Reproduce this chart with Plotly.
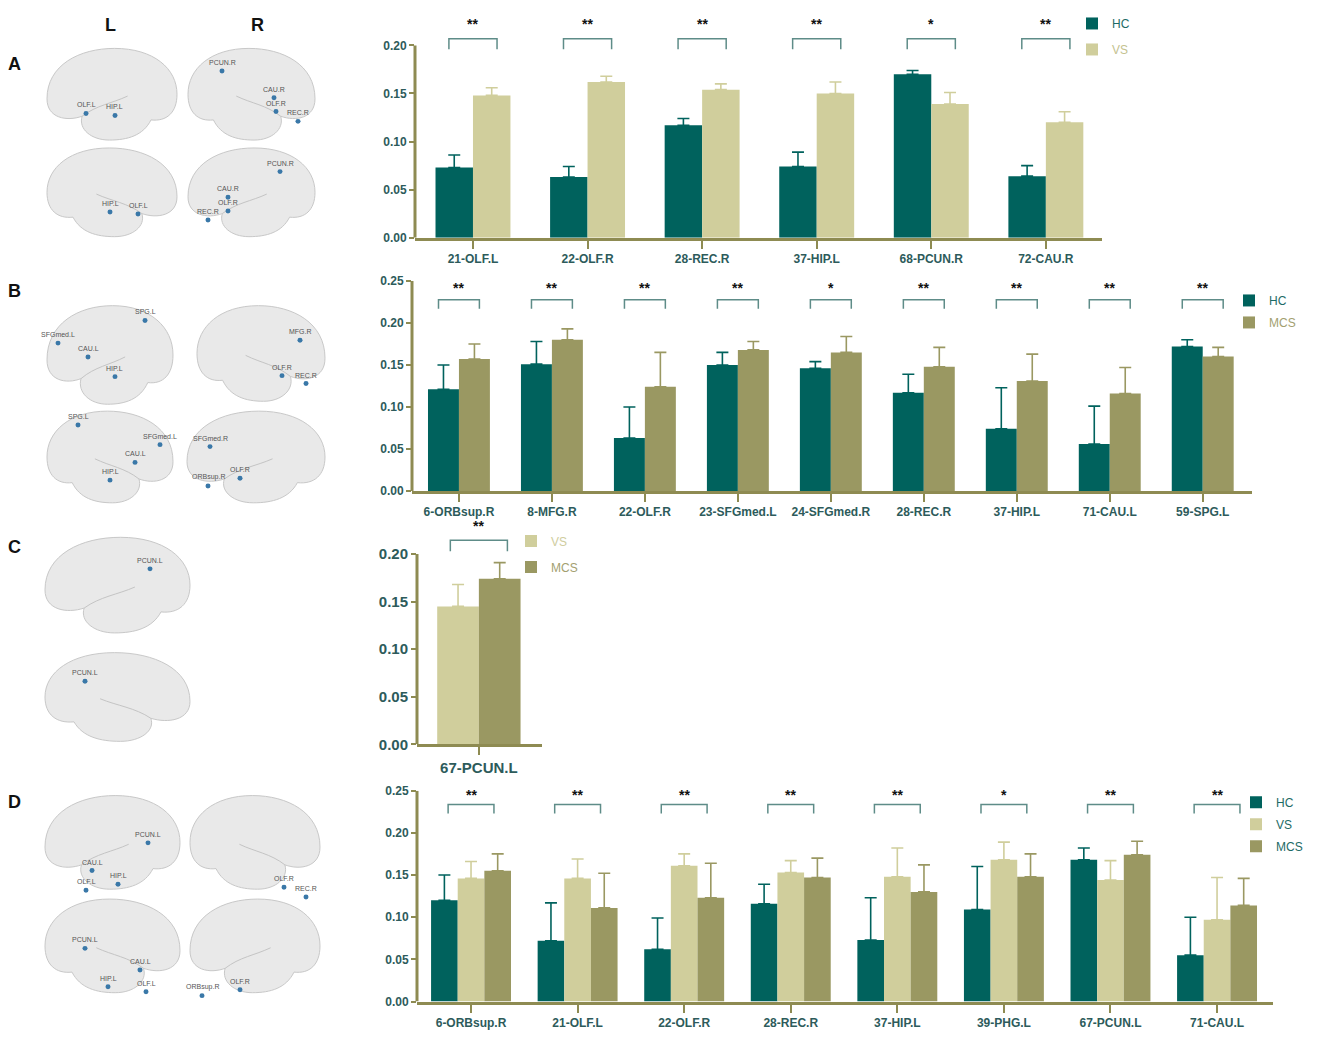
import plotly.graph_objects as go

W, H = 1325, 1049
FONT = "Liberation Sans, Arial, sans-serif"

# ------------------------------------------------------------------ data
catsA = ["21-OLF.L", "22-OLF.R", "28-REC.R", "37-HIP.L", "68-PCUN.R", "72-CAU.R"]
A_HC = [0.073, 0.063, 0.117, 0.074, 0.170, 0.064]
A_HC_sd = [0.013, 0.011, 0.007, 0.015, 0.004, 0.011]
A_VS = [0.148, 0.162, 0.154, 0.150, 0.139, 0.120]
A_VS_sd = [0.008, 0.006, 0.006, 0.012, 0.012, 0.011]
sigA = ["**", "**", "**", "**", "*", "**"]

catsB = ["6-ORBsup.R", "8-MFG.R", "22-OLF.R", "23-SFGmed.L", "24-SFGmed.R",
         "28-REC.R", "37-HIP.L", "71-CAU.L", "59-SPG.L"]
B_HC = [0.121, 0.151, 0.063, 0.150, 0.146, 0.117, 0.074, 0.056, 0.172]
B_HC_sd = [0.029, 0.027, 0.037, 0.015, 0.008, 0.022, 0.049, 0.045, 0.008]
B_MCS = [0.157, 0.180, 0.124, 0.168, 0.165, 0.148, 0.131, 0.116, 0.160]
B_MCS_sd = [0.018, 0.013, 0.041, 0.010, 0.019, 0.023, 0.032, 0.031, 0.011]
sigB = ["**", "**", "**", "**", "*", "**", "**", "**", "**"]

catsC = ["67-PCUN.L"]
C_VS = [0.145]
C_VS_sd = [0.023]
C_MCS = [0.174]
C_MCS_sd = [0.017]
sigC = ["**"]

catsD = ["6-ORBsup.R", "21-OLF.L", "22-OLF.R", "28-REC.R", "37-HIP.L",
         "39-PHG.L", "67-PCUN.L", "71-CAU.L"]
D_HC = [0.120, 0.072, 0.062, 0.116, 0.073, 0.109, 0.168, 0.055]
D_HC_sd = [0.030, 0.045, 0.037, 0.023, 0.050, 0.051, 0.014, 0.045]
D_VS = [0.146, 0.146, 0.161, 0.153, 0.148, 0.168, 0.144, 0.097]
D_VS_sd = [0.020, 0.023, 0.014, 0.014, 0.034, 0.021, 0.023, 0.050]
D_MCS = [0.155, 0.111, 0.123, 0.147, 0.130, 0.148, 0.174, 0.114]
D_MCS_sd = [0.020, 0.041, 0.041, 0.023, 0.032, 0.027, 0.016, 0.032]
sigD = ["**", "**", "**", "**", "**", "*", "**", "**"]

# ------------------------------------------------------------------ styles
BAR = {"HC": "#00625d", "VS": "#d0ce9c", "MCS": "#9a9862"}
AXIS = "#8e8b52"
TICKTXT = "#2d5b5b"
BRACKET = "#5e8c88"

def px_x(px):
    return px / W

def px_y(py):
    return 1 - py / H

panels = [
    dict(cats=catsA, series=[("HC", A_HC, A_HC_sd), ("VS", A_VS, A_VS_sd)], sig=sigA,
         xpx=(415, 1102), y0=234, pxu=975, ytop=0.235, ymaxtick=0.20,
         xr=(-0.506, 5.49), bw=0.327, br=(0.196, 0.207), st=0.2225, half=0.21, fs=12, xfs=12,
         leg=(1072, 2), legcol={"HC": "#1d6b66", "VS": "#c4c28f"}, gap=7),
    dict(cats=catsB, series=[("HC", B_HC, B_HC_sd), ("MCS", B_MCS, B_MCS_sd)], sig=sigB,
         xpx=(412, 1252), y0=491, pxu=852, ytop=0.25, ymaxtick=0.25,
         xr=(-0.505, 8.53), bw=0.333, br=(0.217, 0.2276), st=0.2415, half=0.22, fs=12, xfs=12,
         leg=(1229, 283), legcol={"HC": "#1d6b66", "MCS": "#a3a070"}, gap=3),
    dict(cats=catsC, series=[("VS", C_VS, C_VS_sd), ("MCS", C_MCS, C_MCS_sd)], sig=sigC,
         xpx=(417, 542), y0=748, pxu=965, ytop=0.245, ymaxtick=0.20,
         xr=(-0.49, 0.5), bw=0.33, br=(0.203, 0.2145), st=0.229, half=0.226, fs=15, xfs=15,
         leg=(511, 527), legcol={"VS": "#cfcd9e", "MCS": "#a3a070"}, gap=7),
    dict(cats=catsD, series=[("HC", D_HC, D_HC_sd), ("VS", D_VS, D_VS_sd), ("MCS", D_MCS, D_MCS_sd)],
         sig=sigD, xpx=(417, 1273), y0=1009, pxu=856, ytop=0.25, ymaxtick=0.25,
         xr=(-0.507, 7.525), bw=0.25, br=(0.223, 0.2336), st=0.2445, half=0.215, fs=12, xfs=12,
         leg=(1236, 792), legcol={"HC": "#1d6b66", "VS": "#1d6b66", "MCS": "#1d6b66"}, gap=3),
]

fig = go.Figure()
shapes = []
annotations = []
layout = {}

for i, p in enumerate(panels):
    k = i + 1
    sx = "" if k == 1 else str(k)
    xa, ya = "x" + sx, "y" + sx
    legname = "legend" + sx
    n = len(p["cats"])
    xs = list(range(n))
    ns = len(p["series"])
    for j, (g, vals, sd) in enumerate(p["series"]):
        fig.add_trace(go.Bar(
            x=xs, y=vals, width=p["bw"], offset=-ns * p["bw"] / 2 + j * p["bw"],
            marker=dict(color=BAR[g], line=dict(width=0)),
            error_y=dict(type="data", array=sd, symmetric=False, arrayminus=[0] * n,
                         color=BAR[g], thickness=1.6, width=6),
            name="<span style='color:%s'>%s</span>" % (p["legcol"][g], g),
            legendgroup="p%d%s" % (k, g), legend=legname,
            xaxis=xa, yaxis=ya, showlegend=True,
        ))
    ybot = px_y(p["y0"])
    ytopd = px_y(p["y0"] - p["ytop"] * p["pxu"])
    ticks = [round(t * 0.05, 2) for t in range(int(round(p["ymaxtick"] / 0.05)) + 1)]
    layout["xaxis" + sx] = dict(
        domain=[px_x(p["xpx"][0]), px_x(p["xpx"][1])], anchor=ya, range=list(p["xr"]),
        tickvals=xs, ticktext=p["cats"], showline=True, linecolor=AXIS, linewidth=3,
        ticks="outside", ticklen=8, tickwidth=2, tickcolor=AXIS, showgrid=False, zeroline=False,
        tickfont=dict(family=FONT, size=p["xfs"], color=TICKTXT, weight="bold"),
    )
    layout["yaxis" + sx] = dict(
        domain=[ybot, ytopd], anchor=xa, range=[0, p["ytop"]], tickvals=ticks,
        tickformat=".2f", showline=False, ticks="outside", ticklen=5, tickwidth=2,
        tickcolor=AXIS, showgrid=False, zeroline=False,
        tickfont=dict(family=FONT, size=p["fs"], color=TICKTXT, weight="bold"),
    )
    layout[legname] = dict(
        x=px_x(p["leg"][0]), y=px_y(p["leg"][1]), xanchor="left", yanchor="top",
        bgcolor="rgba(0,0,0,0)", font=dict(family=FONT, size=12),
        traceorder="grouped", tracegroupgap=p["gap"], itemwidth=30,
    )
    # y axis line up to the top tick
    shapes.append(dict(type="line", xref=xa + " domain", yref=ya, x0=0, x1=0,
                       y0=0, y1=p["ymaxtick"], line=dict(color=AXIS, width=3)))
    # significance brackets
    for c, s in zip(xs, p["sig"]):
        a, b = c - p["half"], c + p["half"]
        lo, hi = p["br"]
        shapes.append(dict(type="path", xref=xa, yref=ya,
                           path="M %f,%f L %f,%f L %f,%f L %f,%f" % (a, lo, a, hi, b, hi, b, lo),
                           line=dict(color=BRACKET, width=1.5)))
        annotations.append(dict(x=c, y=p["st"], xref=xa, yref=ya, text="<b>%s</b>" % s,
                                showarrow=False, xanchor="center", yanchor="middle",
                                font=dict(family=FONT, size=14, color="#111111")))

# ------------------------------------------------------------------ decorations (brain sketches)
OUTLINE = [  # normalized brain silhouette, frontal pole on the left
    ("M", [(0.0, 0.55)]),
    ("C", [(0.0, 0.18), (0.25, 0.0), (0.52, 0.0)]),
    ("C", [(0.82, 0.0), (1.0, 0.22), (1.0, 0.5)]),
    ("C", [(1.0, 0.70), (0.92, 0.80), (0.80, 0.78)]),
    ("C", [(0.74, 0.95), (0.62, 1.0), (0.48, 1.0)]),
    ("C", [(0.34, 1.0), (0.24, 0.88), (0.27, 0.74)]),
    ("C", [(0.15, 0.80), (0.0, 0.76), (0.0, 0.55)]),
]
FISSURE = [("M", [(0.27, 0.74)]), ("C", [(0.38, 0.62), (0.50, 0.60), (0.62, 0.52)])]

def brain_path(segs, x0, y0, x1, y1, mirror):
    out = []
    for cmd, pts in segs:
        coords = []
        for (u, v) in pts:
            if mirror:
                u = 1 - u
            coords.append("%f,%f" % (px_x(x0 + u * (x1 - x0)), px_y(y0 + v * (y1 - y0))))
        out.append(cmd + " " + " ".join(coords))
    return " ".join(out)

brains = [
    (47, 42, 177, 135, False, [("OLF.L", 86, 108), ("HIP.L", 115, 110)]),
    (188, 42, 315, 135, True, [("PCUN.R", 222, 65), ("CAU.R", 274, 92), ("OLF.R", 276, 106), ("REC.R", 298, 116)]),
    (47, 143, 177, 233, True, [("HIP.L", 110, 208), ("OLF.L", 138, 210)]),
    (188, 143, 315, 233, False, [("PCUN.R", 280, 167), ("CAU.R", 228, 193), ("OLF.R", 228, 207), ("REC.R", 208, 216)]),
    (47, 303, 173, 403, False, [("SPG.L", 145, 318), ("SFGmed.L", 58, 341), ("CAU.L", 88, 355), ("HIP.L", 115, 375)]),
    (197, 303, 325, 400, True, [("MFG.R", 300, 338), ("OLF.R", 282, 374), ("REC.R", 306, 382)]),
    (47, 410, 173, 503, True, [("SPG.L", 78, 424), ("SFGmed.L", 160, 444), ("CAU.L", 135, 462), ("HIP.L", 110, 480)]),
    (187, 410, 325, 503, False, [("SFGmed.R", 210, 446), ("ORBsup.R", 208, 486), ("OLF.R", 240, 478)]),
    (45, 538, 190, 635, False, [("PCUN.L", 150, 570)]),
    (45, 655, 190, 745, True, [("PCUN.L", 85, 684)]),
    (45, 800, 180, 895, False, [("PCUN.L", 148, 848), ("CAU.L", 92, 876), ("HIP.L", 118, 890), ("OLF.L", 86, 896)]),
    (190, 800, 320, 895, True, [("OLF.R", 284, 893), ("REC.R", 306, 903)]),
    (45, 905, 180, 1000, True, [("PCUN.L", 85, 955), ("CAU.L", 140, 977), ("HIP.L", 108, 994), ("OLF.L", 146, 999)]),
    (190, 905, 320, 1000, False, [("ORBsup.R", 202, 1003), ("OLF.R", 240, 997)]),
]
for (x0, y0, x1, y1, mirror, labs) in brains:
    shapes.append(dict(type="path", xref="paper", yref="paper", layer="below",
                       path=brain_path(OUTLINE, x0, y0, x1, y1, mirror) + " Z",
                       fillcolor="#e9e9e9", line=dict(color="#c8c8c8", width=1)))
    shapes.append(dict(type="path", xref="paper", yref="paper", layer="below",
                       path=brain_path(FISSURE, x0, y0, x1, y1, mirror),
                       line=dict(color="#c4c4c4", width=1)))
    for (t, lx, ly) in labs:
        shapes.append(dict(type="circle", xref="paper", yref="paper",
                           x0=px_x(lx - 2.5), x1=px_x(lx + 2.5), y0=px_y(ly - 2.5), y1=px_y(ly + 2.5),
                           fillcolor="#3a78a8", line=dict(width=0)))
        annotations.append(dict(x=px_x(lx), y=px_y(ly - 3), xref="paper", yref="paper",
                                text=t, showarrow=False, xanchor="center", yanchor="bottom",
                                font=dict(family=FONT, size=7, color="#555555")))

for t, x, y in [("A", 14, 58), ("B", 14, 288), ("C", 14, 548), ("D", 14, 807), ("L", 110, 18), ("R", 257, 18)]:
    annotations.append(dict(x=px_x(x), y=px_y(y), xref="paper", yref="paper", text="<b>%s</b>" % t,
                            showarrow=False, xanchor="center", yanchor="middle",
                            font=dict(family=FONT, size=18, color="#111111")))

fig.update_layout(
    width=W, height=H, margin=dict(l=0, r=0, t=0, b=0),
    paper_bgcolor="white", plot_bgcolor="rgba(0,0,0,0)",
    barmode="overlay", shapes=shapes, annotations=annotations,
    font=dict(family=FONT), **layout,
)
fig.write_html("out.html", config={"displayModeBar": False},
               post_script="document.body.style.margin='0px';document.body.style.overflow='hidden';")
